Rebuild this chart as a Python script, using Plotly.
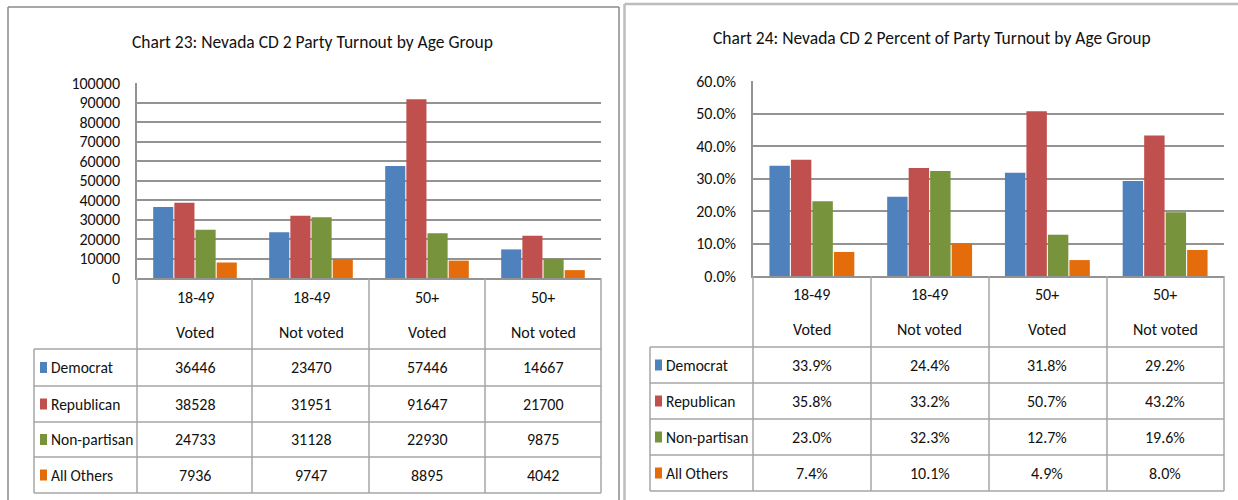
import plotly.graph_objects as go

# ---------------- data ----------------
age_groups = ["18-49", "18-49", "50+", "50+"]
vote_status = ["Voted", "Not voted", "Voted", "Not voted"]
categories = [f"{a} {s}" for a, s in zip(age_groups, vote_status)]
parties = ["Democrat", "Republican", "Non-partisan", "All Others"]

turnout_democrat = [36446, 23470, 57446, 14667]
turnout_republican = [38528, 31951, 91647, 21700]
turnout_nonpartisan = [24733, 31128, 22930, 9875]
turnout_others = [7936, 9747, 8895, 4042]

pct_democrat = [0.339, 0.244, 0.318, 0.292]
pct_republican = [0.358, 0.332, 0.507, 0.432]
pct_nonpartisan = [0.230, 0.323, 0.127, 0.196]
pct_others = [0.074, 0.101, 0.049, 0.080]

title_left = "Chart 23: Nevada CD 2 Party Turnout by Age Group"
title_right = "Chart 24: Nevada CD 2 Percent of Party Turnout by Age Group"

# ---------------- style ----------------
W, H = 1238, 500
colors = ["#4F81BD", "#C0504D", "#77933C", "#E46C0A"]
FONT = "Carlito, Calibri, 'Roboto Condensed', sans-serif"
TXT = "#111111"
GRID = "#939393"
TABLE = "#a6a6a6"
FS = 16
FS_NAME = 15.5
FS_TITLE = 17.5


def px(x):
    return x / W


def py(y):
    return 1 - y / H


fig = go.Figure()

left_series = [turnout_democrat, turnout_republican, turnout_nonpartisan, turnout_others]
right_series = [pct_democrat, pct_republican, pct_nonpartisan, pct_others]

for name, vals, col in zip(parties, left_series, colors):
    fig.add_trace(go.Bar(x=categories, y=vals, name=name, marker=dict(color=col, line=dict(width=0)),
                         xaxis="x", yaxis="y", showlegend=False))
for name, vals, col in zip(parties, right_series, colors):
    fig.add_trace(go.Bar(x=categories, y=vals, name=name, marker=dict(color=col, line=dict(width=0)),
                         xaxis="x2", yaxis="y2", showlegend=False))

# panel geometry (pixels)
panels = [
    dict(xa="x", ya="y", plot_l=137, plot_r=601, plot_t=83, plot_b=278,
         title=title_left, title_x=312, title_y=42,
         hdr1=297, hdr2=332, rows=[349, 386, 422, 457, 493], tab_l=34,
         cols=[137, 252, 369, 485, 601], sq_x=40, txt_x=49,
         series=left_series, fmt=lambda v: f"{v}"),
    dict(xa="x2", ya="y2", plot_l=753, plot_r=1224, plot_t=81, plot_b=276,
         title=title_right, title_x=932, title_y=38,
         hdr1=294, hdr2=329, rows=[347, 383, 419, 455, 491], tab_l=650,
         cols=[753, 871, 989, 1107, 1224], sq_x=655, txt_x=664,
         series=right_series, fmt=lambda v: f"{v*100:.1f}%"),
]

shapes = []
annotations = []


def seg(x0, y0, x1, y1, color, width):
    shapes.append(dict(type="line", xref="paper", yref="paper", x0=px(x0), x1=px(x1), y0=py(y0), y1=py(y1),
                       line=dict(color=color, width=width), layer="below"))


# outer panel borders
seg(8, 7, 619, 7, "#8a8a8a", 1.5)
seg(8, 7, 8, 500, "#8a8a8a", 1.5)
seg(619, 7, 619, 500, "#8a8a8a", 1.5)
seg(624.5, 4, 1238, 4, "#bdbdbd", 2.5)
seg(624.5, 4, 624.5, 500, "#bdbdbd", 2.5)

for p in panels:
    annotations.append(dict(text=p["title"], xref="paper", yref="paper", x=px(p["title_x"]), y=py(p["title_y"]),
                            xanchor="center", yanchor="middle", showarrow=False,
                            font=dict(family=FONT, size=FS_TITLE, color=TXT)))
    # header labels
    for c, a, s in zip(categories, age_groups, vote_status):
        annotations.append(dict(text=a, xref=p["xa"], yref="paper", x=c, y=py(p["hdr1"]),
                                xanchor="center", yanchor="middle", showarrow=False,
                                font=dict(family=FONT, size=FS, color=TXT)))
        annotations.append(dict(text=s, xref=p["xa"], yref="paper", x=c, y=py(p["hdr2"]),
                                xanchor="center", yanchor="middle", showarrow=False,
                                font=dict(family=FONT, size=FS, color=TXT)))
    rows = p["rows"]
    # table horizontal lines
    for r in rows:
        shapes.append(dict(type="line", xref="paper", yref="paper", x0=px(p["tab_l"]), x1=px(p["plot_r"]),
                           y0=py(r), y1=py(r), line=dict(color=TABLE, width=1.5)))
    # table vertical lines
    shapes.append(dict(type="line", xref="paper", yref="paper", x0=px(p["tab_l"]), x1=px(p["tab_l"]),
                       y0=py(rows[0]), y1=py(rows[-1]), line=dict(color=TABLE, width=1.5)))
    for cx in p["cols"]:
        shapes.append(dict(type="line", xref="paper", yref="paper", x0=px(cx), x1=px(cx),
                           y0=py(p["plot_b"]), y1=py(rows[-1]), line=dict(color=TABLE, width=1.5)))
    # rows: legend key + name + values
    for i, (name, vals, col) in enumerate(zip(parties, p["series"], colors)):
        yc = (rows[i] + rows[i + 1]) / 2
        shapes.append(dict(type="rect", xref="paper", yref="paper", x0=px(p["sq_x"]), x1=px(p["sq_x"] + 7),
                           y0=py(yc + 5.5), y1=py(yc - 5.5), fillcolor=col, line=dict(width=0)))
        annotations.append(dict(text=name, xref="paper", yref="paper", x=px(p["txt_x"]), y=py(yc),
                                xanchor="left", yanchor="middle", showarrow=False,
                                font=dict(family=FONT, size=FS_NAME, color=TXT)))
        for c, v in zip(categories, vals):
            annotations.append(dict(text=p["fmt"](v), xref=p["xa"], yref="paper", x=c, y=py(yc),
                                    xanchor="center", yanchor="middle", showarrow=False,
                                    font=dict(family=FONT, size=FS, color=TXT)))

axis_common_x = dict(showticklabels=False, showgrid=False, zeroline=False, showline=True,
                     linecolor=GRID, linewidth=1.5, ticks="", fixedrange=True, automargin=False)
axis_common_y = dict(showgrid=True, gridcolor=GRID, gridwidth=1.5, zeroline=False, showline=True,
                     linecolor=GRID, linewidth=1.5, ticks="", ticklabelstandoff=12, automargin=False,
                     tickfont=dict(family=FONT, size=FS, color=TXT))

L, R = panels
fig.update_layout(
    width=W, height=H, autosize=False,
    margin=dict(l=0, r=0, t=0, b=0, pad=0, autoexpand=False),
    paper_bgcolor="white", plot_bgcolor="white",
    barmode="group", bargap=0.27, bargroupgap=0.05,
    xaxis=dict(domain=[px(L["plot_l"]), px(L["plot_r"])], anchor="y", **axis_common_x),
    yaxis=dict(domain=[py(L["plot_b"]), py(L["plot_t"])], anchor="x", range=[0, 100000], dtick=10000,
               tickformat="d", **axis_common_y),
    xaxis2=dict(domain=[px(R["plot_l"]), px(R["plot_r"])], anchor="y2", **axis_common_x),
    yaxis2=dict(domain=[py(R["plot_b"]), py(R["plot_t"])], anchor="x2", range=[0, 0.6], dtick=0.1,
                tickformat=".1%", **axis_common_y),
    shapes=shapes,
    annotations=annotations,
    font=dict(family=FONT, color=TXT),
)

fig.write_html("out.html", config={"displayModeBar": False},
               post_script="document.body.style.margin='0';")
